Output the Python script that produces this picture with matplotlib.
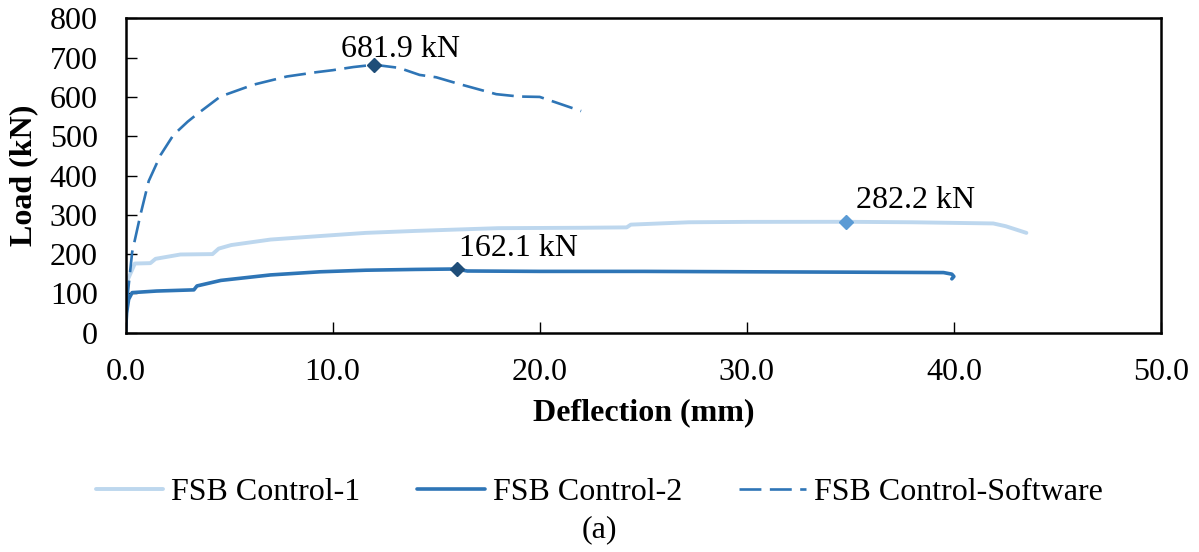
import matplotlib
matplotlib.use("Agg")
import matplotlib.pyplot as plt

plt.rcParams["font.family"] = ["Liberation Serif", "DejaVu Serif"]

# load-deflection curves (mm, kN)
ctrl1_defl = [0, 0.1, 0.45, 1.2, 1.45, 2.65, 4.2, 4.5, 5.1, 7.0, 9.4, 11.6, 14.0, 18.0,
              22.0, 24.2, 24.4, 27.2, 30.0, 34.8, 38.0, 41.9, 42.5, 43.5]
ctrl1_load = [0, 134, 176, 177, 188, 199, 200, 214, 223, 237, 246, 254, 259, 266,
              267, 268, 275, 281, 282, 282.2, 281, 278, 271, 254]

ctrl2_defl = [0, 0.05, 0.15, 0.32, 1.5, 3.3, 3.45, 4.6, 7.0, 9.4, 11.6, 14.0,
              16.0, 16.5, 20.0, 25.0, 30.0, 35.0, 39.5, 39.9, 40.0, 39.9]
ctrl2_load = [0, 50, 85, 102, 106, 109, 119, 133, 147, 155, 159, 161,
              162.1, 157, 156, 156, 155, 154, 153, 149, 143, 137]

soft_defl = [0, 0.1, 0.32, 0.72, 1.12, 1.69, 2.31, 3.0, 3.45, 4.58, 6.17, 7.79, 9.23,
             10.0, 11.0, 12.0, 13.2, 14.2, 15.0, 16.1, 17.9, 19.0, 20.0, 22.0]
soft_load = [0, 95, 205, 300, 386, 452, 503, 537, 556, 601, 631, 652, 663,
             668, 676, 681.9, 674, 656, 650, 633, 607, 601, 600, 564]

# peak points: deflection, load, marker colour, label offset in pixels
peaks = [(12.0, 681.9, "#1F4E79", (-33, 8)),
         (34.8, 282.2, "#5B9BD5", (10, 14)),
         (16.0, 162.1, "#1F4E79", (2, 13))]

FS = 23

fig = plt.figure(figsize=(11.99, 5.52), dpi=100)
ax = fig.add_axes([0.1047, 0.3973, 0.8636, 0.5695])

ax.plot(ctrl1_defl, ctrl1_load, color="#BDD7EE", lw=2.8, label="FSB Control-1",
        solid_capstyle="round")
ax.plot(ctrl2_defl, ctrl2_load, color="#2E75B6", lw=2.6, label="FSB Control-2",
        solid_capstyle="round")
ax.plot(soft_defl, soft_load, color="#2E75B6", lw=1.9, ls=(0, (8.3, 3.2)),
        label="FSB Control-Software")

for x, y, c, off in peaks:
    ax.plot(x, y, marker="D", ms=7, color=c, zorder=5)
    ax.annotate(f"{y:.1f} kN", (x, y), xytext=off, textcoords="offset pixels",
                fontsize=FS, ha="left", va="baseline")

ax.set_xlim(0, 50)
ax.set_ylim(0, 800)
ax.set_xticks(range(0, 51, 10))
ax.set_xticklabels([f"{v:.1f}" for v in range(0, 51, 10)])
ax.set_yticks(range(0, 801, 100))
ax.tick_params(direction="in", length=8, width=1, labelsize=FS)
ax.tick_params(axis="x", pad=18)
ax.tick_params(axis="y", pad=20)
for s in ax.spines.values():
    s.set_linewidth(1.8)

ax.set_xlabel("Deflection (mm)", fontsize=FS, fontweight="bold", labelpad=8)
ax.set_ylabel("Load (kN)", fontsize=FS, fontweight="bold", labelpad=8)

fig.legend(loc="center", bbox_to_anchor=(0.5, 0.108), ncol=3, frameon=False,
           fontsize=FS, handlelength=2.1, columnspacing=1.8, handletextpad=0.25)
fig.text(0.5, 0.04, "(a)", ha="center", va="center", fontsize=FS)

fig.savefig("out.png", dpi=100)
